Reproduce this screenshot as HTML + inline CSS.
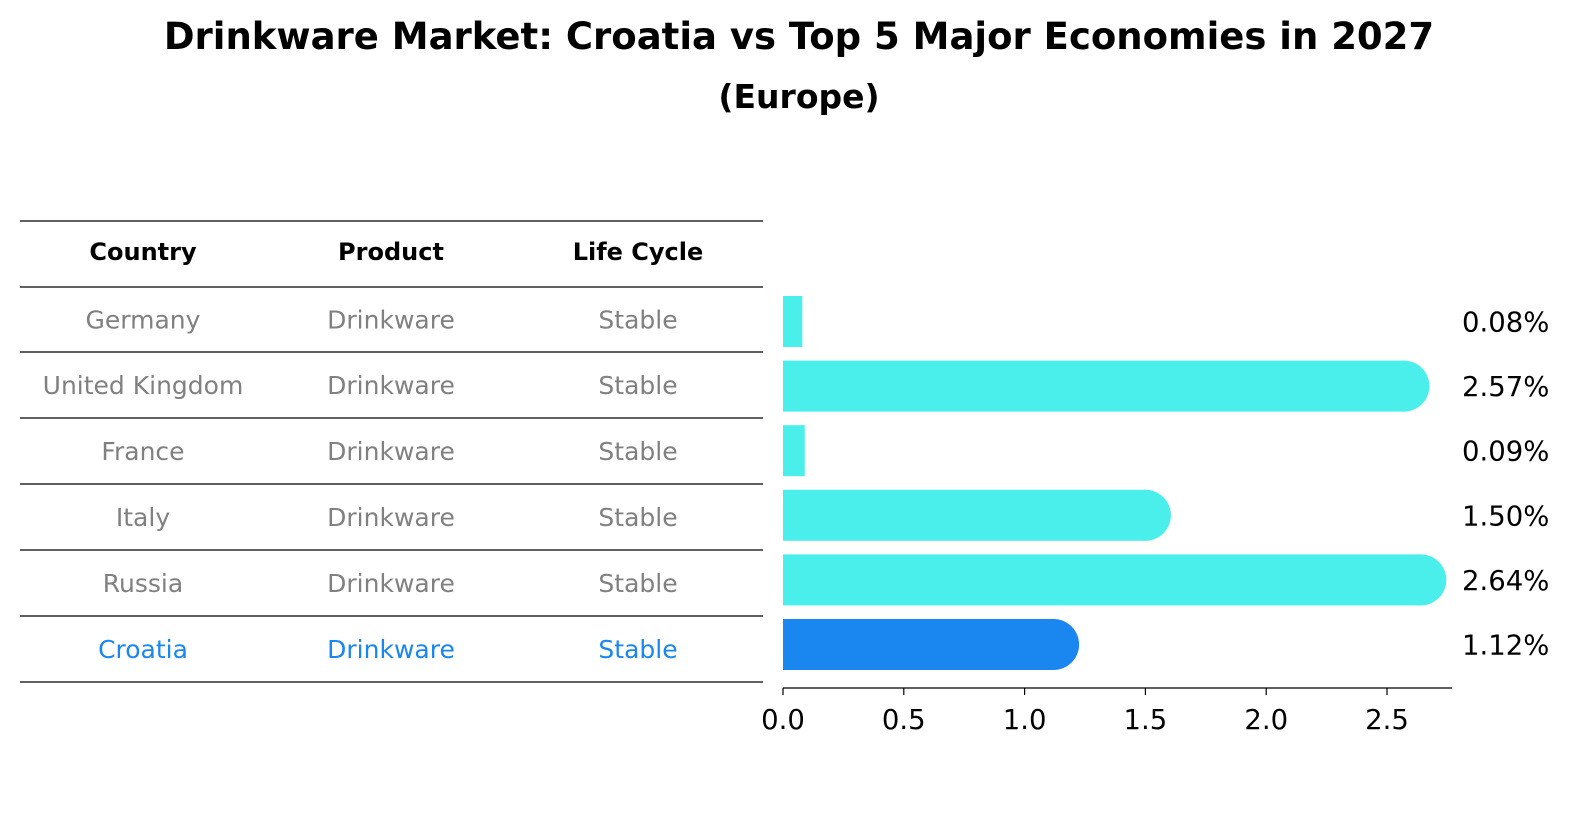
<!DOCTYPE html>
<html><head><meta charset="utf-8"><style>
body{margin:0;background:#fff;}
svg text{font-family:"DejaVu Sans","Liberation Sans",sans-serif;}
</style></head><body>
<svg width="1586" height="823" viewBox="0 0 1586 823" xmlns="http://www.w3.org/2000/svg">
<text x="799" y="49" text-anchor="middle" font-size="37" font-weight="bold">Drinkware Market: Croatia vs Top 5 Major Economies in 2027</text>
<text x="799" y="108" text-anchor="middle" font-size="33" font-weight="bold">(Europe)</text>
<g id="table"></g>
<g id="bars"></g>
<g id="axis"></g>
</svg>
<script>
const countries=["Germany","United Kingdom","France","Italy","Russia","Croatia"];
const products=["Drinkware","Drinkware","Drinkware","Drinkware","Drinkware","Drinkware"];
const lifeCycles=["Stable","Stable","Stable","Stable","Stable","Stable"];
const values=[0.08,2.57,0.09,1.50,2.64,1.12];
const ticks=[0,0.5,1.0,1.5,2.0,2.5];
const NS="http://www.w3.org/2000/svg";
function mk(tag,attrs,parent){const e=document.createElementNS(NS,tag);for(const k in attrs)e.setAttribute(k,attrs[k]);parent.appendChild(e);return e;}
const x0=783,scale=241.6;
const xs=v=>x0+v*scale;
const rowY=i=>321.5+i*64.6;
const tbl=document.getElementById('table'),bars=document.getElementById('bars'),axis=document.getElementById('axis');
const lineYs=[221,287,352,418,484,550,616,682];
lineYs.forEach(y=>{const l=mk('line',{x1:20,x2:763,y1:y,y2:y,stroke:'#000','stroke-width':1.2},tbl);

});
const cols=[143,391,638];
["Country","Product","Life Cycle"].forEach((h,j)=>{const t=mk('text',{x:cols[j],y:260,'text-anchor':'middle','font-size':24,'font-weight':'bold'},tbl);t.textContent=h;

});
countries.forEach((c,i)=>{
 const col=c==="Croatia"?"#1a86f0":"#808080";
 const cy=(lineYs[i+1]+lineYs[i+2])/2+9;
 [c,products[i],lifeCycles[i]].forEach((s,j)=>{const t=mk('text',{x:cols[j],y:cy,'text-anchor':'middle','font-size':25,fill:col},tbl);t.textContent=s;
 
 });
 const v=values[i],yc=rowY(i),h=51,fill=c==="Croatia"?"#1a86f0":"#4aeeea";
 const g=mk('g',{},bars);
 
 
 mk('rect',{x:x0,y:yc-h/2,width:xs(v)-x0,height:h,fill:fill},g);
 if(v>0.2) mk('circle',{cx:xs(v),cy:yc,r:h/2,fill:fill},g);
 const t=mk('text',{x:1462,y:yc+10,'font-size':27.5},bars);t.textContent=v.toFixed(2)+"%";
 
 
});
mk('line',{x1:x0,x2:1452,y1:688,y2:688,stroke:'#000','stroke-width':1.3},axis);
ticks.forEach(v=>{mk('line',{x1:xs(v),x2:xs(v),y1:688,y2:695,stroke:'#000','stroke-width':1.2},axis);
 const t=mk('text',{x:xs(v),y:729,'text-anchor':'middle','font-size':27.5},axis);t.textContent=v.toFixed(1);
 
 });
</script>
</body></html>
